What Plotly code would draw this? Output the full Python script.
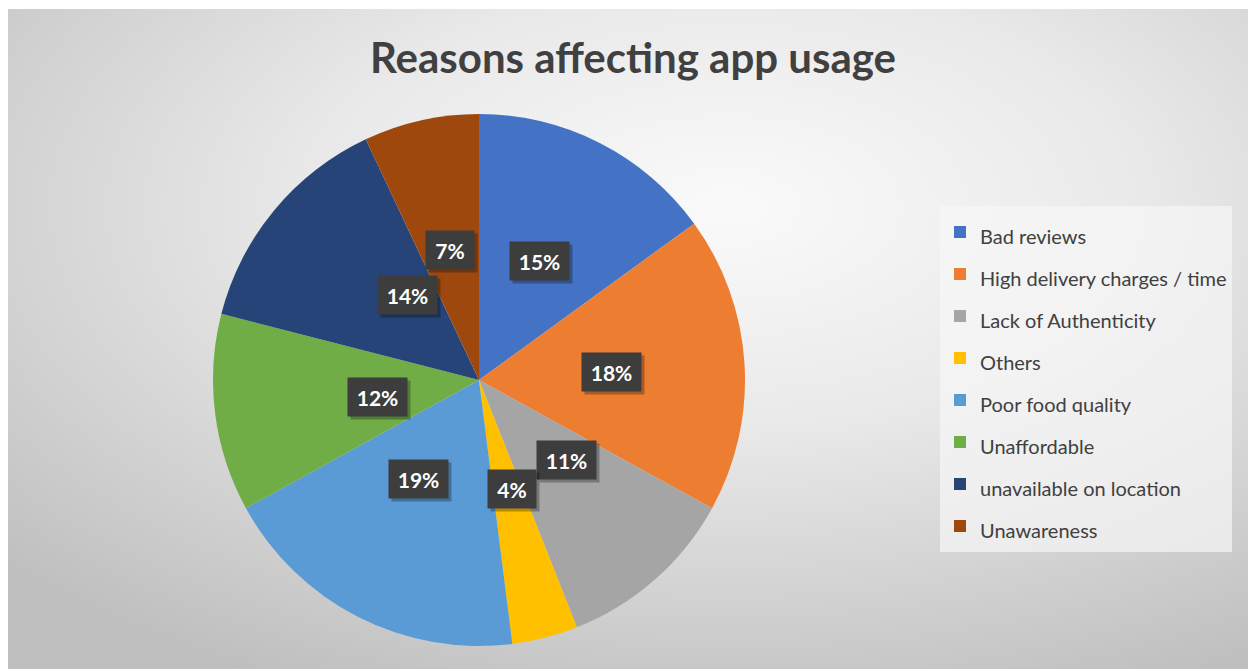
import base64
import math
import plotly.graph_objects as go

# Survey breakdown of reasons affecting app usage (percent)
categories = [
    "Bad reviews",
    "High delivery charges / time",
    "Lack of Authenticity",
    "Others",
    "Poor food quality",
    "Unaffordable",
    "unavailable on location",
    "Unawareness",
]
shares = [15, 18, 11, 4, 19, 12, 14, 7]
colors = ["#4472C4", "#ED7D31", "#A5A5A5", "#FFC000",
          "#5B9BD5", "#70AD47", "#264478", "#9E480E"]

W, H = 1248, 669
CX, CY, R = 479, 380, 266          # pie centre and radius in pixels
FONT = "Lato, 'Open Sans', sans-serif"

# soft radial background for the chart area
svg = f"""<svg xmlns='http://www.w3.org/2000/svg' width='{W}' height='{H}' viewBox='0 0 {W} {H}' preserveAspectRatio='none'>
<defs><radialGradient id='g' cx='0.58' cy='0.30' r='0.80' gradientUnits='objectBoundingBox'>
<stop offset='0' stop-color='#fafafa'/><stop offset='0.42' stop-color='#e9e9e9'/>
<stop offset='1' stop-color='#bfbfbf'/></radialGradient></defs>
<rect width='{W}' height='{H}' fill='url(#g)'/></svg>"""
bg_src = "data:image/svg+xml;base64," + base64.b64encode(svg.encode()).decode()

fig = go.Figure(go.Pie(
    labels=[f"<span style='font-size:20px'>{c}</span>" for c in categories],
    values=shares,
    sort=False,
    direction="clockwise",
    rotation=0,
    marker=dict(colors=colors, line=dict(width=0)),
    textinfo="none",
    hovertext=categories,
    hoverinfo="text+percent",
    domain=dict(x=[(CX - R) / W, (CX + R) / W],
                y=[(H - CY - R) / H, (H - CY + R) / H]),
))

# percentage call-outs placed halfway along each slice's mid-angle,
# each on a dark box with a soft offset shadow
total = sum(shares)
cum = 0
annotations = []
for v in shares:
    mid = (cum + v / 2) / total * 2 * math.pi
    cum += v
    px = CX + 0.5 * R * math.sin(mid)
    py = CY - 0.5 * R * math.cos(mid)
    pct = f"{round(v / total * 100)}%"
    box_w = 12 + 11 * len(pct)
    common = dict(x=px / W, y=1 - py / H, xref="paper", yref="paper",
                  showarrow=False, borderpad=7, width=box_w, height=24)
    annotations.append(dict(common, text=" ", bgcolor="rgba(0,0,0,0.28)",
                            xshift=3, yshift=-3,
                            font=dict(family=FONT, size=20)))
    annotations.append(dict(common, text=f"<b>{pct}</b>", bgcolor="#3d3d3d",
                            font=dict(family=FONT, size=21, color="white")))

fig.update_layout(
    width=W, height=H,
    margin=dict(l=0, r=0, t=0, b=0),
    paper_bgcolor="white",
    plot_bgcolor="white",
    images=[dict(source=bg_src, xref="paper", yref="paper",
                 x=8 / W, y=1 - 9 / H, sizex=1 - 8 / W, sizey=1 - 9 / H,
                 xanchor="left", yanchor="top", sizing="stretch", layer="below")],
    title=dict(text="<b>Reasons affecting app usage</b>",
               x=633 / W, y=1 - 58 / H, xanchor="center", yanchor="middle",
               font=dict(family=FONT, size=42, color="#404040")),
    # rows are spaced by the legend font size; the visible label is set in the span
    legend=dict(x=940 / W, y=1 - 206 / H, xanchor="left", yanchor="top",
                bgcolor="rgba(246,246,246,0.7)", borderwidth=0,
                font=dict(family=FONT, size=30, color="#404040"),
                itemclick=False, itemdoubleclick=False),
    annotations=annotations,
    showlegend=True,
)

fig.write_html("out.html")
